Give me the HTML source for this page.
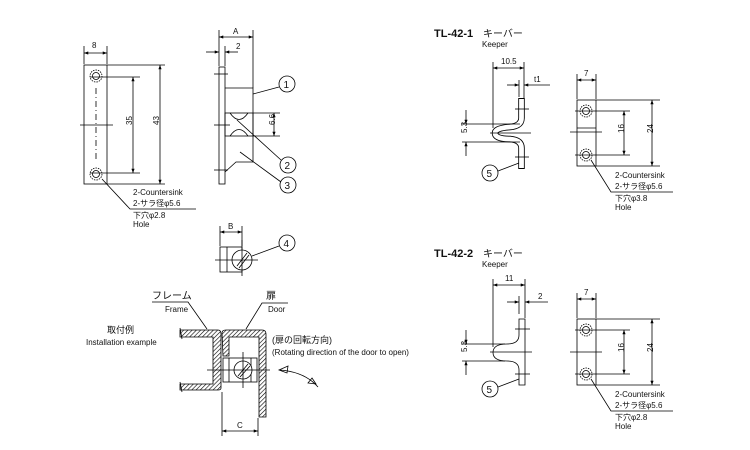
<!DOCTYPE html>
<html><head><meta charset="utf-8"><style>
html,body{margin:0;padding:0;background:#fff}
svg{display:block}
text{font-family:"Liberation Sans","Noto Sans CJK JP",sans-serif;font-size:8px;fill:#111}
.t{font-size:11px;font-weight:bold}
.j{font-size:10px}
</style></head><body>
<svg width="750" height="450" viewBox="0 0 750 450" xmlns="http://www.w3.org/2000/svg">
<defs>
<marker id="a" viewBox="0 0 8 6" refX="8" refY="3" markerWidth="6" markerHeight="4" orient="auto-start-reverse"><path d="M0,0L8,3L0,6z" fill="#000"/></marker>
<pattern id="h" width="3" height="3" patternUnits="userSpaceOnUse" patternTransform="rotate(45)"><line x1="0" y1="0" x2="0" y2="3" stroke="#000" stroke-width="1.2"/></pattern>
</defs>
<g fill="none" stroke="#000" stroke-width="0.8">
<!-- Front view left -->
<rect x="84" y="65" width="23" height="119"/>
<circle cx="96" cy="76" r="3.5"/><circle cx="96" cy="76" r="6" stroke-dasharray="1.5,1"/>
<circle cx="96" cy="174" r="3.5"/><circle cx="96" cy="174" r="6" stroke-dasharray="1.5,1"/>
<line x1="96" y1="88" x2="96" y2="162" stroke-dasharray="6,3,1,3"/>
<line x1="80" y1="125" x2="113" y2="125"/>
<line x1="84" y1="46" x2="84" y2="64"/><line x1="107" y1="46" x2="107" y2="64"/>
<line x1="84" y1="53" x2="107" y2="53" marker-start="url(#a)" marker-end="url(#a)"/>
<line x1="107" y1="65" x2="165" y2="65"/><line x1="107" y1="184" x2="165" y2="184"/>
<line x1="160" y1="65" x2="160" y2="184" marker-start="url(#a)" marker-end="url(#a)"/>
<line x1="90" y1="77" x2="140" y2="77"/><line x1="90" y1="173" x2="140" y2="173"/>
<line x1="133" y1="77" x2="133" y2="173" marker-start="url(#a)" marker-end="url(#a)"/>
<polyline points="102,179 130,209 196,209"/>
<!-- side view -->
<rect x="219" y="67" width="6" height="117"/>
<polyline points="225,88 253,88 253,162 236,162 225,172"/>
<rect x="225" y="113" width="28" height="23"/>
<path d="M230,113 Q239,126 248,113 M230,136 Q239,123 248,136"/>
<line x1="214" y1="74" x2="228" y2="74"/><line x1="214" y1="125" x2="230" y2="125"/><line x1="214" y1="170" x2="228" y2="170"/>
<line x1="219" y1="30" x2="219" y2="66"/><line x1="253" y1="30" x2="253" y2="88"/>
<line x1="219" y1="37" x2="253" y2="37" marker-start="url(#a)" marker-end="url(#a)"/>
<line x1="225" y1="46" x2="225" y2="66"/>
<line x1="206" y1="52" x2="219" y2="52" marker-end="url(#a)"/><line x1="238" y1="52" x2="225" y2="52" marker-end="url(#a)"/>
<line x1="253" y1="113" x2="280" y2="113"/><line x1="253" y1="136" x2="280" y2="136"/>
<line x1="274" y1="113" x2="274" y2="136" marker-start="url(#a)" marker-end="url(#a)"/>
<circle cx="287" cy="84" r="8"/><line x1="253" y1="94" x2="279" y2="87"/>
<circle cx="288" cy="165" r="8"/><line x1="237" y1="120" x2="281" y2="160"/>
<circle cx="288" cy="185" r="8"/><line x1="240" y1="152" x2="281" y2="182"/>
<!-- B view -->
<rect x="220" y="247" width="22" height="25"/><line x1="227" y1="247" x2="227" y2="272"/>
<circle cx="242" cy="260" r="10" fill="#fff"/>
<line x1="237" y1="266" x2="247" y2="253"/><line x1="239" y1="268" x2="249" y2="255"/>
<line x1="215" y1="260" x2="258" y2="260"/><line x1="242" y1="240" x2="242" y2="276"/>
<line x1="220" y1="226" x2="220" y2="246"/><line x1="242" y1="226" x2="242" y2="246"/>
<line x1="220" y1="232" x2="242" y2="232" marker-start="url(#a)" marker-end="url(#a)"/>
<circle cx="287" cy="243" r="8"/><line x1="252" y1="256" x2="279" y2="246"/>
<!-- installation -->
<path d="M180,330 H218 Q221,330 221,334 V388 Q221,390 218,390 H180 V384 H213 V337 H180 Z" fill="url(#h)"/>
<path d="M222,333 Q222,330 226,330 H262 Q266,330 266,334 V417 H259 V337 H229 V356 H223 Z" fill="url(#h)"/>
<line x1="180" y1="328" x2="182" y2="339"/><line x1="180" y1="382" x2="182" y2="392"/>
<rect x="223" y="358" width="34" height="24"/><line x1="229" y1="358" x2="229" y2="382"/><line x1="251" y1="358" x2="251" y2="382"/>
<circle cx="243" cy="370" r="9" fill="#fff"/>
<line x1="238" y1="376" x2="248" y2="364"/><line x1="240" y1="377" x2="250" y2="366"/>
<line x1="207" y1="370" x2="270" y2="370"/><line x1="243" y1="352" x2="243" y2="388"/>
<line x1="222" y1="392" x2="222" y2="436"/><line x1="258" y1="418" x2="258" y2="436"/>
<line x1="222" y1="431" x2="258" y2="431" marker-start="url(#a)" marker-end="url(#a)"/>
<polyline points="152,302 188,302 207,329"/>
<polyline points="288,303 262,303 246,329"/>
<path d="M280,370 Q305,372 318,387"/>
<path d="M279,370 L288,366 L287,373 Z"/><path d="M312,378 L316,384 L308,383 Z"/>
<!-- TL-42-1 profile -->
<path d="M521.5,98 V118 Q521.5,126 510,127 Q495,128 495,133 Q495,139 510,139 Q521.5,140 521.5,148 V169" stroke-width="6.5" stroke-linejoin="round"/>
<path d="M521.5,99 V118 Q521.5,126 510,127 Q495,128 495,133 Q495,139 510,139 Q521.5,140 521.5,148 V168" stroke="#fff" stroke-width="4.8"/>
<line x1="515" y1="109" x2="529" y2="109"/><line x1="490" y1="133" x2="531" y2="133"/><line x1="515" y1="157" x2="529" y2="157"/>
<line x1="493" y1="62" x2="493" y2="128"/><line x1="524" y1="62" x2="524" y2="98"/>
<line x1="493" y1="68" x2="524" y2="68" marker-start="url(#a)" marker-end="url(#a)"/>
<line x1="519" y1="80" x2="519" y2="97"/>
<line x1="507" y1="85" x2="519" y2="85" marker-end="url(#a)"/><line x1="550" y1="85" x2="524" y2="85" marker-end="url(#a)"/>
<line x1="462" y1="124" x2="520" y2="124"/><line x1="462" y1="142" x2="520" y2="142"/>
<line x1="466" y1="110" x2="466" y2="124" marker-end="url(#a)"/><line x1="466" y1="156" x2="466" y2="142" marker-end="url(#a)"/>
<circle cx="490" cy="173" r="8"/><line x1="498" y1="171" x2="519" y2="163"/>
<!-- TL-42-1 right -->
<rect x="577" y="100" width="19" height="66"/>
<circle cx="586" cy="111" r="3.5"/><circle cx="586" cy="111" r="6" stroke-dasharray="1.5,1"/>
<circle cx="586" cy="155" r="3.5"/><circle cx="586" cy="155" r="6" stroke-dasharray="1.5,1"/>
<line x1="577" y1="128" x2="596" y2="128"/><line x1="570" y1="132" x2="602" y2="132"/>
<line x1="577" y1="74" x2="577" y2="99"/><line x1="596" y1="74" x2="596" y2="99"/>
<line x1="577" y1="80" x2="596" y2="80" marker-start="url(#a)" marker-end="url(#a)"/>
<line x1="596" y1="100" x2="660" y2="100"/><line x1="596" y1="166" x2="660" y2="166"/>
<line x1="652" y1="100" x2="652" y2="166" marker-start="url(#a)" marker-end="url(#a)"/>
<line x1="575" y1="111" x2="630" y2="111"/><line x1="575" y1="155" x2="630" y2="155"/>
<line x1="624" y1="111" x2="624" y2="155" marker-start="url(#a)" marker-end="url(#a)"/>
<polyline points="591,160 611,192 673,192"/>
<!-- TL-42-2 profile -->
<path d="M519,319 H525 V385 H519 V370 Q519,361 507,361 Q493,361 493,352.5 Q493,344 507,344 Q519,344 519,335 Z" fill="#fff"/>
<line x1="515" y1="329" x2="530" y2="329"/><line x1="490" y1="352" x2="532" y2="352"/><line x1="515" y1="374" x2="530" y2="374"/>
<line x1="493" y1="279" x2="493" y2="347"/><line x1="525" y1="279" x2="525" y2="318"/>
<line x1="493" y1="285" x2="525" y2="285" marker-start="url(#a)" marker-end="url(#a)"/>
<line x1="519" y1="296" x2="519" y2="314"/>
<line x1="507" y1="302" x2="519" y2="302" marker-end="url(#a)"/><line x1="548" y1="302" x2="525" y2="302" marker-end="url(#a)"/>
<line x1="462" y1="344" x2="505" y2="344"/><line x1="462" y1="361" x2="505" y2="361"/>
<line x1="466" y1="330" x2="466" y2="344" marker-end="url(#a)"/><line x1="466" y1="375" x2="466" y2="361" marker-end="url(#a)"/>
<circle cx="490" cy="389" r="8"/><line x1="498" y1="387" x2="519" y2="379"/>
<!-- TL-42-2 right -->
<rect x="577" y="319" width="19" height="66"/>
<circle cx="586" cy="330" r="3.5"/><circle cx="586" cy="330" r="6" stroke-dasharray="1.5,1"/>
<circle cx="586" cy="374" r="3.5"/><circle cx="586" cy="374" r="6" stroke-dasharray="1.5,1"/>
<line x1="570" y1="352" x2="602" y2="352"/>
<line x1="577" y1="293" x2="577" y2="318"/><line x1="596" y1="293" x2="596" y2="318"/>
<line x1="577" y1="299" x2="596" y2="299" marker-start="url(#a)" marker-end="url(#a)"/>
<line x1="596" y1="319" x2="660" y2="319"/><line x1="596" y1="385" x2="660" y2="385"/>
<line x1="652" y1="319" x2="652" y2="385" marker-start="url(#a)" marker-end="url(#a)"/>
<line x1="575" y1="330" x2="630" y2="330"/><line x1="575" y1="374" x2="630" y2="374"/>
<line x1="624" y1="330" x2="624" y2="374" marker-start="url(#a)" marker-end="url(#a)"/>
<polyline points="591,379 611,411 673,411"/>
</g>
<!-- text -->
<text x="92" y="48">8</text>
<text x="156" y="128" transform="rotate(-90 156 125)">43</text>
<text x="129" y="128" transform="rotate(-90 129 125)">35</text>
<text x="133" y="195">2-Countersink</text>
<text x="133" y="206">2-サラ径φ5.6</text>
<text x="133" y="218">下穴φ2.8</text>
<text x="133" y="227">Hole</text>
<text x="233" y="34">A</text>
<text x="236" y="49">2</text>
<text x="270" y="130" transform="rotate(-90 270 125)">6.6</text>
<text x="283.5" y="88" style="font-size:10px">1</text>
<text x="284.5" y="169" style="font-size:10px">2</text>
<text x="284.5" y="189" style="font-size:10px">3</text>
<text x="228" y="229">B</text>
<text x="283.5" y="247" style="font-size:10px">4</text>
<text x="152" y="299" class="j">フレーム</text>
<text x="165" y="312">Frame</text>
<text x="266" y="299" class="j">扉</text>
<text x="268" y="312">Door</text>
<text x="107" y="333" class="j" style="font-size:9px">取付例</text>
<text x="86" y="345">Installation example</text>
<text x="272" y="343" class="j" style="font-size:9px">(扉の回転方向)</text>
<text x="272" y="355">(Rotating direction of the door to open)</text>
<text x="237" y="428">C</text>
<text x="434" y="37" class="t">TL-42-1</text>
<text x="483" y="37" class="j">キーバー</text>
<text x="482" y="47">Keeper</text>
<text x="501" y="64">10.5</text>
<text x="534" y="82">t1</text>
<text x="462" y="138" transform="rotate(-90 462 133)">5.3</text>
<text x="486.5" y="177" style="font-size:10px">5</text>
<text x="584" y="76">7</text>
<text x="648" y="138" transform="rotate(-90 648 133)">24</text>
<text x="621" y="136" transform="rotate(-90 621 133)">16</text>
<text x="615" y="178">2-Countersink</text>
<text x="615" y="189">2-サラ径φ5.6</text>
<text x="615" y="201">下穴φ3.8</text>
<text x="615" y="210">Hole</text>
<text x="434" y="257" class="t">TL-42-2</text>
<text x="483" y="257" class="j">キーバー</text>
<text x="482" y="267">Keeper</text>
<text x="505" y="281">11</text>
<text x="538" y="299">2</text>
<text x="462" y="357" transform="rotate(-90 462 352)">5.3</text>
<text x="486.5" y="393" style="font-size:10px">5</text>
<text x="584" y="295">7</text>
<text x="648" y="357" transform="rotate(-90 648 352)">24</text>
<text x="621" y="355" transform="rotate(-90 621 352)">16</text>
<text x="615" y="397">2-Countersink</text>
<text x="615" y="408">2-サラ径φ5.6</text>
<text x="615" y="420">下穴φ2.8</text>
<text x="615" y="429">Hole</text>
</svg>
</body></html>
